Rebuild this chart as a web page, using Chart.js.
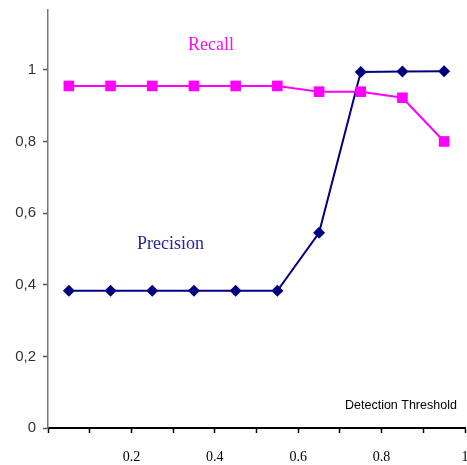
<!DOCTYPE html>
<html>
<head>
<meta charset="utf-8">
<script src="https://cdn.jsdelivr.net/npm/chart.js@4.4.0/dist/chart.umd.min.js"></script>
<style>
    html, body { margin: 0; padding: 0; background: #ffffff; }
    #wrap { width: 467px; height: 465px; position: relative; }
</style>
</head>
<body>
<div id="wrap"><canvas id="pr-chart"></canvas></div>
<script>
const thresholds = [0.05, 0.15, 0.25, 0.35, 0.45, 0.55, 0.65, 0.75, 0.85, 0.95];
const recallValues = [0.955, 0.955, 0.955, 0.955, 0.955, 0.955, 0.939, 0.939, 0.922, 0.80];
const precisionValues = [0.383, 0.383, 0.383, 0.383, 0.383, 0.383, 0.545, 0.994, 0.995, 0.996];
const yTickValues = [0, 0.2, 0.4, 0.6, 0.8, 1];
const xLabelValues = [0.2, 0.4, 0.6, 0.8, 1];

const toPoints = (vals) => thresholds.map((x, i) => ({ x: x, y: vals[i] }));

// Texte libre dans la zone du graphique
const annotations = {
    id: 'annotations',
    afterDraw(chart) {
        const ctx = chart.ctx;
        ctx.save();
        ctx.textBaseline = 'middle';
        ctx.textAlign = 'left';
        ctx.font = '18px "Liberation Serif", "Times New Roman", serif';
        ctx.fillStyle = '#f010f0';
        ctx.fillText('Recall', 188, 45);
        ctx.fillStyle = '#26269a';
        ctx.fillText('Precision', 137, 244);
        ctx.font = '12.5px "Liberation Sans", Arial, sans-serif';
        ctx.fillStyle = '#000000';
        ctx.fillText('Detection Threshold', 345, 406);
        ctx.restore();
    }
};

new Chart(document.getElementById('pr-chart').getContext('2d'), {
    type: 'line',
    data: {
        datasets: [{
            label: 'Recall',
            data: toPoints(recallValues),
            borderColor: '#ff00ff',
            backgroundColor: '#ff00ff',
            borderWidth: 2,
            pointStyle: 'rect',
            pointRadius: 7.5,
            pointBorderWidth: 0,
            tension: 0
        }, {
            label: 'Precision',
            data: toPoints(precisionValues),
            borderColor: '#000080',
            backgroundColor: '#000080',
            borderWidth: 2,
            pointStyle: 'rectRot',
            pointRadius: 6,
            pointBorderWidth: 0,
            tension: 0
        }]
    },
    options: {
        responsive: true,
        maintainAspectRatio: false,
        animation: false,
        layout: { autoPadding: false, padding: { top: 10, right: 2, left: 0, bottom: 0 } },
        plugins: {
            legend: { display: false },
            tooltip: { enabled: false }
        },
        scales: {
            x: {
                type: 'linear',
                min: 0,
                max: 1,
                grid: {
                    drawOnChartArea: false,
                    tickLength: 5,
                    tickColor: '#000000',
                    tickWidth: 1.5
                },
                border: { color: '#000000', width: 2 },
                ticks: {
                    stepSize: 0.1,
                    autoSkip: false,
                    maxRotation: 0,
                    padding: 16,
                    color: '#000000',
                    font: { family: '"Liberation Serif", "Times New Roman", serif', size: 14 },
                    callback: function(value) {
                        const hit = xLabelValues.find(v => Math.abs(v - value) < 1e-6);
                        return hit === undefined ? '' : String(hit);
                    }
                },
                afterFit: function(scale) {
                    scale.height = 37;
                    scale.paddingLeft = 0;
                    scale.paddingRight = 0;
                }
            },
            y: {
                min: 0,
                max: 1.167,
                grid: {
                    drawOnChartArea: false,
                    tickLength: 5,
                    tickColor: '#555555',
                    tickWidth: 1.5
                },
                border: { color: '#777777', width: 1.5 },
                ticks: {
                    padding: 7,
                    color: '#333333',
                    font: { family: '"Liberation Sans", Arial, sans-serif', size: 15 },
                    callback: function(value) {
                        return String(value).replace('.', ',');
                    }
                },
                afterBuildTicks: function(scale) {
                    scale.ticks = yTickValues.map(v => ({ value: v }));
                },
                afterFit: function(scale) {
                    scale.width = 48;
                    scale.paddingTop = 0;
                    scale.paddingBottom = 0;
                }
            }
        }
    },
    plugins: [annotations]
});
</script>
</body>
</html>
